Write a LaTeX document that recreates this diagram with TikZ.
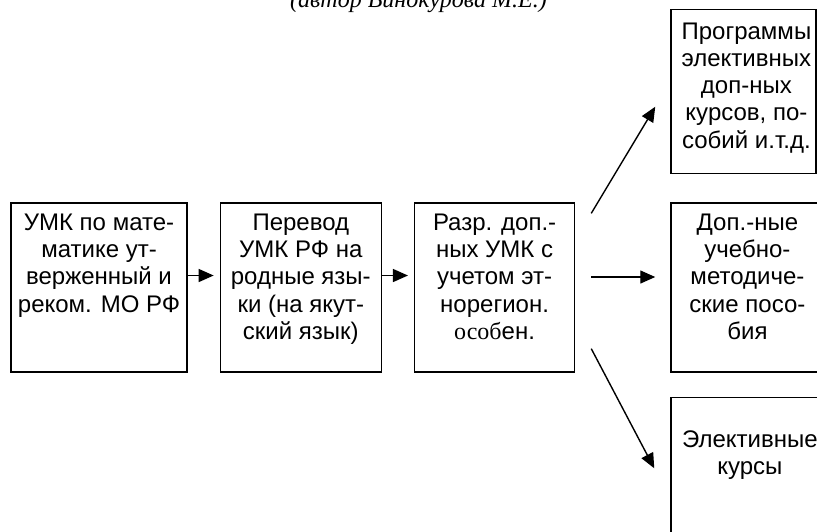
\documentclass[tikz,border=0pt]{standalone}
\usepackage{fontspec}
\setmainfont{Liberation Sans}
\newfontfamily\timesfont{Liberation Serif}
\usetikzlibrary{positioning,arrows.meta}

\newcommand{\boxtxt}[4][13.75pt]{\parbox[c][#3][t]{#2}{\centering\rule{0pt}{#1}#4}}

\begin{document}
\begin{tikzpicture}[x=0.5pt,y=-0.5pt,font=\fontsize{12}{13.6}\selectfont,
  box/.style={draw,line width=0.65pt,inner sep=0pt},
  arr/.style={-{Triangle[length=7.5pt,width=6.5pt]},line width=0.7pt}]
  \useasboundingbox (0,0) rectangle (817,531);
  \node[anchor=base west,font=\timesfont\itshape\fontsize{12}{14}\selectfont] (author) at (283,7) {(автор Винокурова М.Е.)};
  % chain of boxes
  \node[box] (umk) at (99,287.5) {\boxtxt{88pt}{84.5pt}{УМК по мате-\\матике ут-\\верженный и\\реком. МО РФ}};
  \node[box,right=16pt of umk] (perevod) {\boxtxt{80.5pt}{84.5pt}{Перевод\\УМК РФ на\\родные язы-\\ки (на якут-\\ский язык)}};
  \node[box,right=16pt of perevod] (razr) {\boxtxt{80pt}{84.5pt}{Разр. доп.-\\ных УМК с\\учетом эт-\\норегион.\\{\timesfont особ}ен.}};
  \node[box,right=47.5pt of razr] (dop) {\boxtxt{74.5pt}{84.5pt}{\leftskip=2pt plus 1fil Доп.-ные\\учебно-\\методиче-\\ские посо-\\бия}};
  \node[box,above=14pt of dop.north west,anchor=south west] (prog) {\boxtxt[14.75pt]{72.5pt}{82pt}{\leftskip=3pt plus 1fil Программы\\элективных\\доп-ных\\курсов, по-\\собий и.т.д.}};
  \node[box,below=12pt of dop.south west,anchor=north west] (elect) {\boxtxt[25pt]{79pt}{82pt}{Элективные\\курсы}};
  % arrows
  \draw[arr] ([yshift=6pt]umk.east) -- ([yshift=6pt,xshift=-3pt]perevod.west);
  \draw[arr] ([yshift=6pt]perevod.east) -- ([yshift=6pt,xshift=-3pt]razr.west);
  \draw[arr] ([yshift=5.25pt,xshift=8pt]razr.east) -- ([yshift=5.25pt,xshift=-7.5pt]dop.west);
  \draw[arr] ([xshift=8pt,yshift=-5.5pt]razr.north east) -- ([xshift=-7.5pt,yshift=-7.5pt]prog.west);
  \draw[arr] ([xshift=8pt,yshift=12pt]razr.south east) -- ([xshift=-8pt,yshift=5.5pt]elect.west);
\end{tikzpicture}
\end{document}
